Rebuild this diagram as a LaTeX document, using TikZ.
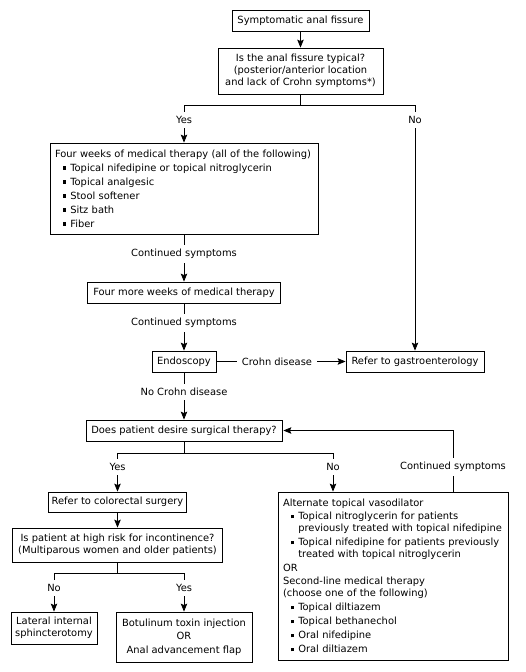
\documentclass[tikz,border=0pt]{standalone}
\usepackage{fontspec}
\setmainfont{DejaVu Sans}
\usetikzlibrary{arrows.meta}
\newcommand\bul{\raisebox{1.4pt}{\rule{3.4pt}{3.4pt}}}
\newcommand\bitem[1]{\hspace*{7.5pt}\bul\hspace{4.4pt}#1}
\newcommand\bcont[1]{\hspace*{15.3pt}#1}
\begin{document}
\begin{tikzpicture}[x=1pt,y=-1pt,
  every node/.style={font=\fontsize{9.9}{12}\selectfont},
  box/.style={draw,line width=0.8pt,inner sep=0pt,align=center},
  lbox/.style={draw,line width=0.8pt,inner xsep=5pt,inner ysep=0pt,align=left},
  lbl/.style={fill=white,inner xsep=5pt,inner ysep=4pt},
  arr/.style={-{Stealth[length=8pt,width=6.5pt,inset=1.5pt]},line width=0.8pt},
  ln/.style={line width=0.8pt}]
\useasboundingbox (0,0) rectangle (526,672);

% nodes
\node[box,minimum width=137pt,minimum height=21pt] (A) at (300.5,20.5) {Symptomatic anal fissure};
\node[box,minimum width=165pt,minimum height=46pt] (B) at (300.5,71) {Is the anal fissure typical?\\(posterior/anterior location\\and lack of Crohn symptoms*)};
\node[lbox,text width=258pt,minimum height=91pt] (C) at (184,188.5) {Four weeks of medical therapy (all of the following)\\[2pt]
\bitem{Topical nifedipine or topical nitroglycerin}\\[2pt]
\bitem{Topical analgesic}\\[2pt]
\bitem{Stool softener}\\[2pt]
\bitem{Sitz bath}\\[2pt]
\bitem{Fiber}};
\node[box,minimum width=193pt,minimum height=21pt] (D) at (184,292.5) {Four more weeks of medical therapy};
\node[box,minimum width=64pt,minimum height=21pt] (E) at (184,361.5) {Endoscopy};
\node[box,minimum width=138pt,minimum height=21pt] (F) at (415,361.5) {Refer to gastroenterology};
\node[box,minimum width=196pt,minimum height=21pt] (G) at (184,430.5) {Does patient desire surgical therapy?};
\node[box,minimum width=138pt,minimum height=20pt] (H) at (117.5,502) {Refer to colorectal surgery};
\node[box,minimum width=210pt,minimum height=34pt] (I) at (117.5,545) {Is patient at high risk for incontinence?\\(Multiparous women and older patients)};
\node[box,minimum width=86pt,minimum height=32pt] (J) at (54,628) {Lateral internal\\sphincterotomy};
\node[box,minimum width=136pt,minimum height=50pt] (K) at (184,637) {Botulinum toxin injection\\[1.5pt]OR\\[1.5pt]Anal advancement flap};
\node[lbox,text width=220pt,minimum height=168pt] (L) at (393,576) {Alternate topical vasodilator\\[1pt]
\bitem{Topical nitroglycerin for patients}\\
\bcont{previously treated with topical nifedipine}\\[2pt]
\bitem{Topical nifedipine for patients previously}\\
\bcont{treated with topical nitroglycerin}\\[2pt]
OR\\[1pt]
Second-line medical therapy\\
(choose one of the following)\\[2pt]
\bitem{Topical diltiazem}\\[2pt]
\bitem{Topical bethanechol}\\[2pt]
\bitem{Oral nifedipine}\\[2pt]
\bitem{Oral diltiazem}};

% coordinates
\coordinate (b1) at (300.5,105);
\coordinate (yes1) at (184,105);
\coordinate (no1) at (415,105);
\coordinate (g1) at (184,453);
\coordinate (yes2) at (117.5,453);
\coordinate (no2) at (333,453);
\coordinate (fb) at (453,430.5);
\coordinate (i1) at (117.5,573);
\coordinate (no3) at (54,573);
\coordinate (yes3) at (184,573);

% connectors
\draw[arr] (A) -- (B);
\draw[ln] (B.south) -- (b1);
\draw[ln] (yes1) -- (no1);
\draw[arr] (yes1) -- (C.north);
\draw[arr] (no1) -- (F.north);
\draw[arr] (C.south) -- (D.north);
\draw[arr] (D.south) -- (E.north);
\draw[arr] (E.east) -- (F.west);
\draw[arr] (E.south) -- (G.north);
\draw[ln] (G.south) -- (g1);
\draw[ln] (yes2) -- (no2);
\draw[arr] (yes2) -- (H.north);
\draw[arr] (no2) -- (L.north -| no2);
\draw[arr,shorten >=1pt] (L.north -| fb) -- (fb) -- (G.east);
\draw[arr] (H.south) -- (I.north);
\draw[ln] (I.south) -- (i1);
\draw[ln] (no3) -- (yes3);
\draw[arr] (no3) -- (J.north);
\draw[arr] (yes3) -- (K.north);

% labels
\node[lbl] (l1) at (184,120) {Yes};
\node[lbl] (l2) at (415,120) {No};
\node[lbl] (l3) at (184,254) {Continued symptoms};
\node[lbl] (l4) at (184,323) {Continued symptoms};
\node[lbl] (l5) at (277,362) {Crohn disease};
\node[lbl] (l6) at (184,392) {No Crohn disease};
\node[lbl] (l7) at (117.5,467) {Yes};
\node[lbl] (l8) at (333,467) {No};
\node[lbl] (l9) at (453,467) {Continued symptoms};
\node[lbl] (l10) at (54,588) {No};
\node[lbl] (l11) at (184,588) {Yes};
\end{tikzpicture}
\end{document}
